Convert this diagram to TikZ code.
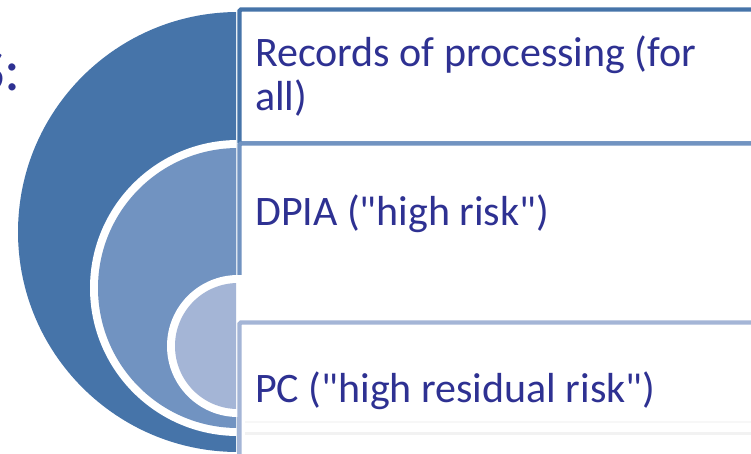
\documentclass[tikz,border=0pt]{standalone}
\usepackage{fontspec}
\setmainfont{Carlito}[Ligatures=TeXOff]
\definecolor{ringdark}{RGB}{70,116,169}
\definecolor{ringmid}{RGB}{113,147,193}
\definecolor{ringlight}{RGB}{164,181,214}
\definecolor{labelink}{RGB}{46,49,146}

\begin{document}
\begin{tikzpicture}[x=1pt,y=-1pt,
  tier/.style={line width=4.4pt, fill=white, rounded corners=1.5pt},
  tierlabel/.style={anchor=base west, inner sep=0pt, text=labelink,
    font=\fontsize{42}{44}\selectfont, align=left},
]
\useasboundingbox (0,0) rectangle (751,453);
\clip (0,0) rectangle (751,453);

% outer half disc and its box
\begin{scope}
  \clip (0,0) rectangle (236,453);
  \fill[ringdark] (238,232) circle[radius=220];
\end{scope}
\draw[tier, draw=ringdark] (239.5,9.5) rectangle (790,143.5);

% middle half disc with white rim, and its box
\begin{scope}
  \clip (0,0) rectangle (236,453);
  \fill[white] (238,288) circle[radius=148];
  \fill[ringmid] (238,288) circle[radius=140];
\end{scope}
\draw[tier, draw=ringmid] (239.5,143.5) rectangle (790,500);

% inner half disc with white rim, and its box
\begin{scope}
  \clip (0,0) rectangle (243,453);
  \fill[white] (238,346) circle[radius=71];
\end{scope}
\begin{scope}
  \clip (0,0) rectangle (236,453);
  \fill[ringlight] (238,346) circle[radius=63];
\end{scope}
\draw[tier, draw=ringlight] (239.5,322.5) rectangle (790,500);

% faint streaks near the bottom of the last box
\fill[black!3] (245,420.5) rectangle (751,423);
\fill[black!5] (245,431.5) rectangle (751,435);

% labels (the heading runs off the left edge)
\node[anchor=base east, inner sep=0pt, text=labelink,
  font=\fontsize{60}{60}\selectfont] (head) at (21,90) {S:};
\node[tierlabel] (records) at (255,110) {Records of processing (for\\all)};
\node[tierlabel] (dpia) at (255,225) {DPIA ("high risk")};
\node[tierlabel] (pc) at (255,402) {PC ("high residual risk")};
\end{tikzpicture}
\end{document}
